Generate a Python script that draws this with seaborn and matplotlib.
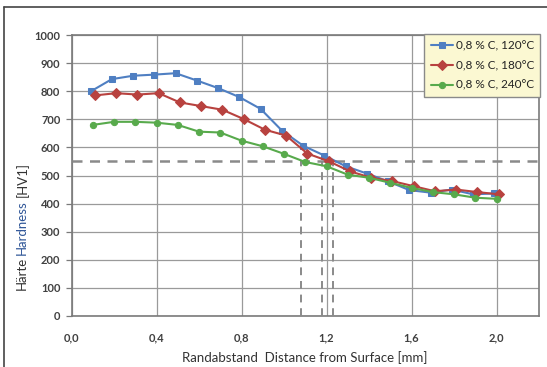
import numpy as np
import pandas as pd
import matplotlib
matplotlib.use("Agg")
import matplotlib.pyplot as plt
from matplotlib.ticker import FuncFormatter, MultipleLocator
from matplotlib.lines import Line2D
import seaborn as sns

# ---- data ----
series_names = ["0,8 % C, 120°C", "0,8 % C, 180°C", "0,8 % C, 240°C"]
x_120 = [0.09, 0.19, 0.29, 0.39, 0.49, 0.59, 0.69, 0.79, 0.89, 0.99,
         1.09, 1.19, 1.29, 1.39, 1.49, 1.59, 1.69, 1.79, 1.89, 1.99]
hv_120 = [799, 843, 855, 859, 864, 838, 811, 779, 737, 660,
          606, 571, 533, 507, 479, 448, 439, 450, 433, 436]
x_180 = [0.11, 0.21, 0.31, 0.41, 0.51, 0.61, 0.71, 0.81, 0.91, 1.01,
         1.11, 1.21, 1.31, 1.41, 1.51, 1.61, 1.71, 1.81, 1.91, 2.01]
hv_180 = [785, 793, 788, 793, 760, 747, 734, 701, 663, 642,
          578, 551, 515, 492, 480, 462, 444, 450, 441, 433]
x_240 = [0.10, 0.20, 0.30, 0.40, 0.50, 0.60, 0.70, 0.80, 0.90, 1.00,
         1.10, 1.20, 1.30, 1.40, 1.50, 1.60, 1.70, 1.80, 1.90, 2.00]
hv_240 = [680, 691, 691, 688, 680, 656, 653, 624, 604, 577,
          548, 533, 503, 492, 474, 456, 441, 433, 421, 417]
threshold_hv = 550
depth_marks = [1.08, 1.18, 1.23]

colors = ["#4F7FC2", "#B8423F", "#58AA4C"]
markers = ["s", "D", "o"]
msizes = [4.5, 5, 4.5]

font = "Lato"
sns.set_theme(style="white")
plt.rcParams["font.family"] = [font, "DejaVu Sans"]

fig = plt.figure(figsize=(5.47, 3.67), dpi=100)
ax = fig.add_axes([71.5 / 547, 1 - 316 / 367, (539 - 71.5) / 547, (316 - 35) / 367])

xs = [x_120, x_180, x_240]
ys = [hv_120, hv_180, hv_240]
for name, xv, yv, c, m, ms in zip(series_names, xs, ys, colors, markers, msizes):
    df = pd.DataFrame({"x": xv, "y": yv})
    sns.lineplot(data=df, x="x", y="y", ax=ax, color=c, marker=m, markersize=ms,
                 markeredgecolor=c, linewidth=1.5, label=name, sort=False, zorder=4)

# dashed reference lines
dash_color = "#8a8a8a"
ax.axhline(threshold_hv, color=dash_color, lw=1.8, ls=(0, (4, 3)), zorder=3)
for d in depth_marks:
    ax.plot([d, d], [0, threshold_hv], color=dash_color, lw=1.4, ls=(0, (4, 3)), zorder=3)

ax.set_xlim(0, 2.2)
ax.set_ylim(0, 1000)
ax.xaxis.set_major_locator(MultipleLocator(0.4))
ax.yaxis.set_major_locator(MultipleLocator(100))
ax.xaxis.set_major_formatter(FuncFormatter(lambda v, p: f"{v:.1f}".replace(".", ",")))
ax.yaxis.set_major_formatter(FuncFormatter(lambda v, p: f"{int(round(v))}"))
ax.grid(True, color="#9a9a9a", lw=0.9)
ax.set_axisbelow(True)
for s in ax.spines.values():
    s.set_color("#7a7a7a")
    s.set_linewidth(1.2)
ax.tick_params(axis="y", which="major", left=True, length=4, width=0.9, color="#7a7a7a",
               labelsize=8, labelcolor="#404040", pad=4)
ax.tick_params(axis="x", which="major", bottom=False, labelsize=8, labelcolor="#404040", pad=6)
for lbl in ax.get_xticklabels() + ax.get_yticklabels():
    lbl.set_fontweight("bold")

ax.set_xlabel("Randabstand  Distance from Surface [mm]", fontsize=9.5, color="#333333", labelpad=5)
ax.set_ylabel("")

# multi-coloured y label
t1 = fig.text(22 / 547, 1 - 290 / 367, "Härte", rotation=90, ha="center", va="bottom",
              fontsize=9.5, color="#333333")
t2 = ax.annotate("Hardness", xy=(0.5, 1.0), xycoords=t1, xytext=(0, 1.0),
                 textcoords="offset points", rotation=90, ha="center",
                 va="bottom", fontsize=9.5, color="#2E5597", annotation_clip=False)
t3 = ax.annotate("[HV1]", xy=(0.5, 1.0), xycoords=t2, xytext=(0, 2.5),
                 textcoords="offset points", rotation=90, ha="center",
                 va="bottom", fontsize=9.5, color="#333333", annotation_clip=False)

leg = ax.legend(loc="upper right", bbox_to_anchor=(1.003, 1.005), fontsize=8.5,
                frameon=True, fancybox=False, handlelength=1.9, handletextpad=0.2,
                borderpad=0.55, labelspacing=0.75, borderaxespad=0.0)
leg.get_frame().set_facecolor("#FBF8D2")
leg.get_frame().set_edgecolor("#8a8a8a")
leg.get_frame().set_linewidth(1.0)
leg.get_frame().set_alpha(1.0)
for t in leg.get_texts():
    t.set_color("#222222")
leg.set_zorder(10)

# figure border (top and left)
fig.add_artist(Line2D([4 / 547, 1.0], [1 - 7 / 367, 1 - 7 / 367], color="#444444", lw=1.2,
                      transform=fig.transFigure))
fig.add_artist(Line2D([4 / 547, 4 / 547], [0.0, 1 - 7 / 367], color="#444444", lw=1.2,
                      transform=fig.transFigure))

fig.savefig("out.png", dpi=100)
